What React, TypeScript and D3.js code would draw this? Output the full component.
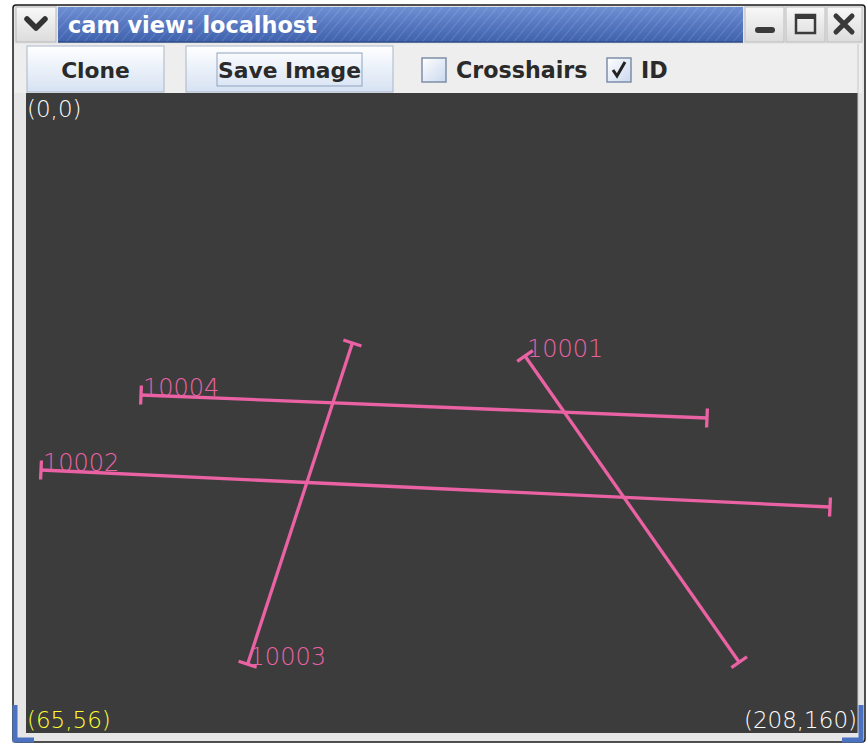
import React from "react";
import * as d3 from "d3";

// camera image size (pixels) and view zoom
const imageSize = [208, 160];
const cursorLabel = "(65,56)";
const originLabel = "(0,0)";
const sizeLabel = "(208,160)";

// tracked line segments in image coordinates: [x1, y1] (labelled end) -> [x2, y2]
const lineIds = ["10004", "10002", "10003", "10001"];
const startX = [28.75, 3.75, 55.4, 124.75];
const startY = [75.5, 94.25, 142.8, 65.75];
const endX = [170.25, 201.0, 81.6, 178.3];
const endY = [81.25, 103.5, 62.5, 142.3];

const toolbarButtons = ["Clone", "Save Image"];
const checkLabels = ["Crosshairs", "ID"];
const checkStates = [false, true];

const W = 868;
const H = 743;
const canvas = { x: 26, y: 93, w: 832, h: 640 };
const PINK = "#ea62a4";

export default function App() {
  const xs = d3.scaleLinear().domain([0, imageSize[0]]).range([canvas.x, canvas.x + canvas.w]);
  const ys = d3.scaleLinear().domain([0, imageSize[1]]).range([canvas.y, canvas.y + canvas.h]);
  const capHalf = 9.5;

  const segs = lineIds.map((id, i) => {
    const x1 = xs(startX[i]);
    const y1 = ys(startY[i]);
    const x2 = xs(endX[i]);
    const y2 = ys(endY[i]);
    const len = Math.hypot(x2 - x1, y2 - y1);
    const nx = -(y2 - y1) / len;
    const ny = (x2 - x1) / len;
    return { id, x1, y1, x2, y2, nx, ny };
  });

  const line = d3.line();

  const btnX = [27, 186];
  const btnW = [137, 207];
  const checkX = [422, 607];
  const checkTextX = [456, 641];

  return (
    <div style={{ position: "absolute", left: 0, top: 0, width: W, height: H, background: "#fff" }}>
      <svg width={W} height={H} style={{ display: "block" }}>
        <defs>
          <linearGradient id="title" x1="0" y1="0" x2="0" y2="1">
            <stop offset="0" stopColor="#6e8fd2" />
            <stop offset="0.5" stopColor="#5677c0" />
            <stop offset="1" stopColor="#3f62ad" />
          </linearGradient>
          <pattern id="stripes" width="7" height="7" patternUnits="userSpaceOnUse" patternTransform="rotate(40)">
            <rect width="7" height="7" fill="none" />
            <line x1="0" y1="0" x2="0" y2="7" stroke="#ffffff" strokeOpacity="0.13" strokeWidth="2" />
          </pattern>
          <linearGradient id="btn" x1="0" y1="0" x2="0" y2="1">
            <stop offset="0" stopColor="#ffffff" />
            <stop offset="1" stopColor="#d6e2f2" />
          </linearGradient>
          <linearGradient id="sysbtn" x1="0" y1="0" x2="0" y2="1">
            <stop offset="0" stopColor="#f8f8f8" />
            <stop offset="1" stopColor="#dcdcdc" />
          </linearGradient>
          <linearGradient id="chk" x1="0" y1="0" x2="1" y2="1">
            <stop offset="0" stopColor="#ffffff" />
            <stop offset="1" stopColor="#c9d8ee" />
          </linearGradient>
        </defs>

        {/* window frame */}
        <rect x={13} y={5} width={852} height={737} fill="#e6e6e6" stroke="#1a1a1a" strokeWidth={1.5} rx={3} />

        {/* title bar */}
        <rect x={16} y={7} width={40} height={35} fill="url(#sysbtn)" stroke="#b8b8b8" />
        <path d="M27,19 L36,28 L45,19" fill="none" stroke="#333" strokeWidth={5.5} strokeLinecap="round" strokeLinejoin="round" />
        <rect x={58} y={7} width={685} height={35} fill="url(#title)" />
        <rect x={58} y={7} width={685} height={35} fill="url(#stripes)" />
        <line x1={58} y1={42} x2={743} y2={42} stroke="#2c4a86" strokeWidth={1.5} />
        <text x={68} y={33} fill="#ffffff" fontFamily="DejaVu Sans" fontWeight="bold" fontSize={22.4}>
          cam view: localhost
        </text>
        {/* system buttons */}
        <rect x={745} y={7} width={39} height={35} fill="url(#sysbtn)" stroke="#bdbdbd" />
        <rect x={755} y={27} width={20} height={6} rx={3} fill="#3a3a3a" />
        <rect x={786} y={7} width={39} height={35} fill="url(#sysbtn)" stroke="#bdbdbd" />
        <rect x={796} y={15} width={19} height={18} fill="none" stroke="#3a3a3a" strokeWidth={2.5} />
        <rect x={796} y={15} width={19} height={4} fill="#3a3a3a" />
        <rect x={827} y={7} width={35} height={35} fill="url(#sysbtn)" stroke="#bdbdbd" />
        <path d="M836,16 L852,32 M852,16 L836,32" stroke="#3a3a3a" strokeWidth={5} strokeLinecap="round" />

        {/* toolbar */}
        <rect x={14} y={44} width={848} height={49} fill="#eeeeee" />
        {toolbarButtons.map((b, i) => (
          <g key={b}>
            <rect x={btnX[i]} y={46} width={btnW[i]} height={46} fill="url(#btn)" stroke="#a9b6c8" />
            <text
              x={btnX[i] + btnW[i] / 2}
              y={78}
              textAnchor="middle"
              fill="#2a2a2a"
              fontFamily="DejaVu Sans"
              fontWeight="bold"
              fontSize={21.8}
            >
              {b}
            </text>
          </g>
        ))}
        <rect x={217} y={53} width={145} height={33} fill="none" stroke="#8fa3c0" strokeWidth={1} />
        {checkLabels.map((c, i) => (
          <g key={c}>
            <rect x={checkX[i]} y={58} width={24} height={24} fill="url(#chk)" stroke="#7d8ea8" strokeWidth={1.5} />
            {checkStates[i] && (
              <path
                d={`M${checkX[i] + 6},${70} L${checkX[i] + 10},${76} L${checkX[i] + 18},${62}`}
                fill="none"
                stroke="#222"
                strokeWidth={3}
              />
            )}
            <text x={checkTextX[i]} y={78} fill="#2a2a2a" fontFamily="DejaVu Sans" fontWeight="bold" fontSize={22.2}>
              {c}
            </text>
          </g>
        ))}

        {/* canvas */}
        <rect x={canvas.x} y={canvas.y} width={canvas.w} height={canvas.h} fill="#3c3c3c" />
        <line x1={858} y1={44} x2={858} y2={733} stroke="#c8c8c8" />

        {segs.map((s) => (
          <g key={s.id} stroke={PINK} strokeWidth={3.3} fill="none">
            <path d={line([[s.x1, s.y1], [s.x2, s.y2]]) || ""} />
            <path
              d={
                line([
                  [s.x1 - s.nx * capHalf, s.y1 - s.ny * capHalf],
                  [s.x1 + s.nx * capHalf, s.y1 + s.ny * capHalf],
                ]) || ""
              }
            />
            <path
              d={
                line([
                  [s.x2 - s.nx * capHalf, s.y2 - s.ny * capHalf],
                  [s.x2 + s.nx * capHalf, s.y2 + s.ny * capHalf],
                ]) || ""
              }
            />
          </g>
        ))}
        {segs.map((s) => (
          <text
            key={s.id + "t"}
            x={s.x1 + 2}
            y={s.y1 + 1}
            fill={PINK}
            fontFamily="DejaVu Sans"
            fontWeight={200}
            fontSize={24}
          >
            {s.id}
          </text>
        ))}

        <text x={27} y={117} fill="#ffffff" fontFamily="DejaVu Sans" fontWeight={200} fontSize={23}>
          {originLabel}
        </text>
        <text x={27} y={728} fill="#ffff33" fontFamily="DejaVu Sans" fontWeight={200} fontSize={23}>
          {cursorLabel}
        </text>
        <text x={857} y={728} textAnchor="end" fill="#ffffff" fontFamily="DejaVu Sans" fontWeight={200} fontSize={23}>
          {sizeLabel}
        </text>

        {/* bottom border with blue corners */}
        <rect x={14} y={733} width={848} height={8} fill="#e6e6e6" />
        <path d="M15,705 L15,740 L34,740" fill="none" stroke="#4b72c0" strokeWidth={5} />
        <path d="M861,705 L861,740 L842,740" fill="none" stroke="#4b72c0" strokeWidth={5} />
      </svg>
    </div>
  );
}
